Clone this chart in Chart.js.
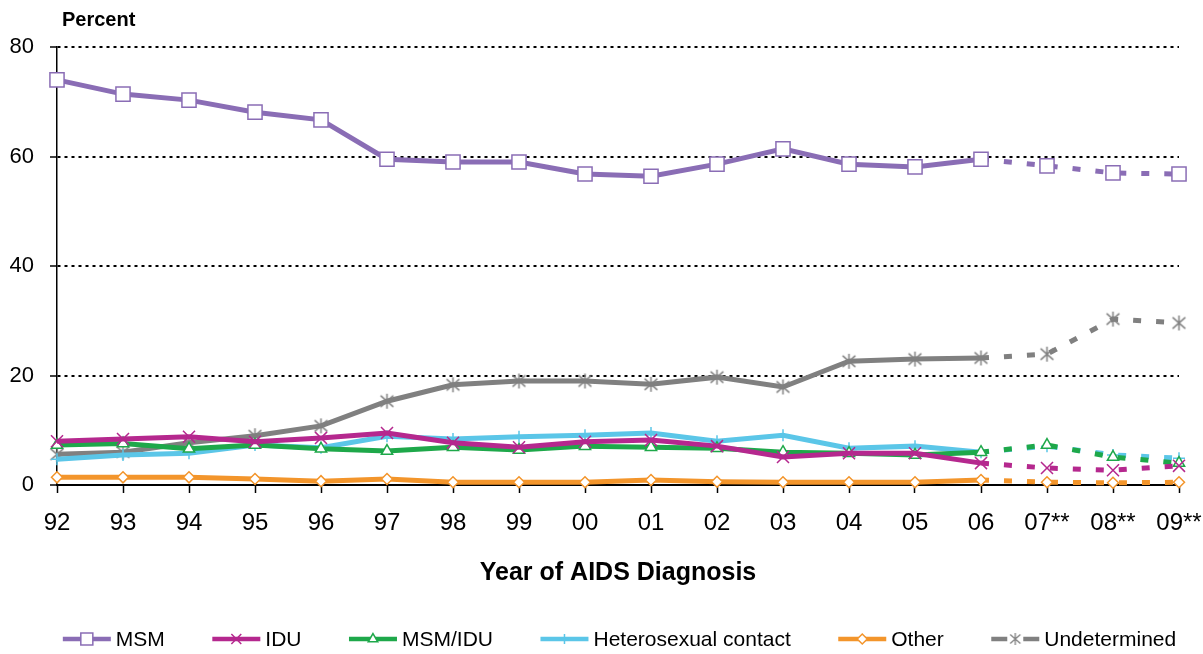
<!DOCTYPE html>
<html><head><meta charset="utf-8">
<script src="https://cdn.jsdelivr.net/npm/chart.js@4.4.1/dist/chart.umd.min.js"></script>
<style>html,body{margin:0;padding:0;background:#fff;}#wrap{width:1203px;height:654px;position:relative;}</style>
</head><body><div id="wrap"><canvas id="c"></canvas></div>
<script>
const years = ['92','93','94','95','96','97','98','99','00','01','02','03','04','05','06','07**','08**','09**'];
const msm = [74.0,71.4,70.3,68.1,66.7,59.5,59.0,59.0,56.8,56.4,58.6,61.4,58.6,58.1,59.5,58.3,57.0,56.8];
const idu = [8.0,8.4,8.8,7.9,8.6,9.5,7.7,6.9,7.9,8.2,7.1,5.1,5.8,5.8,4.0,3.1,2.7,3.5];
const msmIdu = [7.3,7.6,6.6,7.3,6.6,6.2,6.9,6.4,7.1,6.9,6.7,6.0,5.8,5.5,6.0,7.3,5.1,4.0];
const hetero = [4.7,5.5,5.8,7.3,6.8,8.9,8.4,8.8,9.1,9.5,8.0,9.1,6.7,7.1,6.0,7.1,5.5,4.9];
const other = [1.4,1.4,1.4,1.1,0.7,1.1,0.5,0.5,0.5,0.9,0.6,0.5,0.5,0.5,0.9,0.5,0.4,0.5];
const undetermined = [5.6,6.0,7.7,9.0,10.8,15.3,18.3,19.0,19.0,18.4,19.7,17.9,22.6,23.0,23.2,23.9,30.3,29.6];
const seriesNames = ['MSM','IDU','MSM/IDU','Heterosexual contact','Other','Undetermined'];
const yTicks = [0,20,40,60,80];
const estimatedFrom = 14; // segments after '06' are dashed (estimates)

const FONT = "'Liberation Sans', Arial, sans-serif";
const colors = ['#8A6DB5','#B5288E','#1EA84A','#5BC6E8','#F3952B','#808080'];

function asterisk(color, size, lw){
  const c = document.createElement('canvas'); c.width = size; c.height = size;
  const g = c.getContext('2d'); g.strokeStyle = color; g.lineWidth = lw; g.lineCap='butt';
  const m = size/2, r = size/2 - 1;
  g.beginPath();
  g.moveTo(m, m - r); g.lineTo(m, m + r);
  const dx = r*0.85, dy = r*0.75;
  g.moveTo(m - dx, m - dy); g.lineTo(m + dx, m + dy);
  g.moveTo(m + dx, m - dy); g.lineTo(m - dx, m + dy);
  g.stroke();
  return c;
}
const starImg = asterisk(colors[5], 17, 1.5);
const starImgLegend = asterisk(colors[5], 14, 1.3);

const styles = [
  {pointStyle:'rect', radius:10},
  {pointStyle:'crossRot', radius:8.5},
  {pointStyle:'triangle', radius:6.5},
  {pointStyle:'cross', radius:6},
  {pointStyle:'rectRot', radius:5.5},
  {pointStyle:starImg, radius:8}
];
const legendStyles = [
  {pointStyle:'rect', radius:8.5},
  {pointStyle:'crossRot', radius:7},
  {pointStyle:'triangle', radius:5.5},
  {pointStyle:'cross', radius:5},
  {pointStyle:'rectRot', radius:5},
  {pointStyle:starImgLegend, radius:7}
];
const seriesData = [msm, idu, msmIdu, hetero, other, undetermined];

const datasets = seriesData.map((d,i)=>({
  label: seriesNames[i],
  data: d,
  borderColor: colors[i],
  backgroundColor: colors[i],
  borderWidth: 5,
  pointStyle: styles[i].pointStyle,
  pointRadius: styles[i].radius,
  pointHoverRadius: styles[i].radius,
  pointBorderWidth: 1.5,
  pointBackgroundColor: '#fff',
  pointBorderColor: colors[i],
  tension: 0,
  clip: false,
  segment: { borderDash: ctx => ctx.p0DataIndex >= estimatedFrom ? [8,15] : undefined }
}));

const extras = {
  id:'extras',
  afterDraw(chart){
    const ctx = chart.ctx;
    ctx.save();
    ctx.fillStyle = '#000';
    ctx.font = 'bold 20px ' + FONT;
    ctx.textBaseline = 'middle'; ctx.textAlign = 'left';
    ctx.fillText('Percent', 62, 20);
    // legend
    ctx.font = '21px ' + FONT;
    const lineW = 48, gapT = 5, gapItem = 47.5;
    const widths = seriesNames.map(n => lineW + gapT + ctx.measureText(n).width);
    const total = widths.reduce((a,b)=>a+b,0) + gapItem*(widths.length-1);
    let x = 619.5 - total/2;
    const y = 639;
    seriesNames.forEach((n,i)=>{
      ctx.strokeStyle = colors[i]; ctx.lineWidth = 4.5; ctx.setLineDash([]);
      ctx.beginPath(); ctx.moveTo(x, y); ctx.lineTo(x+lineW, y); ctx.stroke();
      const st = legendStyles[i];
      ctx.fillStyle = '#fff'; ctx.strokeStyle = colors[i]; ctx.lineWidth = 1.5;
      if (typeof st.pointStyle === 'object') {
        ctx.fillRect(x+lineW/2-8, y-6, 16, 12);
        ctx.drawImage(st.pointStyle, x+lineW/2-st.pointStyle.width/2, y-st.pointStyle.height/2);
      } else {
        Chart.helpers.drawPoint(ctx, {pointStyle: st.pointStyle, radius: st.radius, rotation: 0, borderWidth: 1.5}, x+lineW/2, y);
      }
      ctx.fillStyle = '#000'; ctx.textBaseline='middle'; ctx.textAlign='left';
      ctx.fillText(n, x+lineW+gapT, y+1);
      x += widths[i] + gapItem;
    });
    ctx.restore();
  }
};

new Chart(document.getElementById('c'), {
  type:'line',
  data:{ labels: years, datasets },
  options:{
    responsive:true, maintainAspectRatio:false, animation:false,
    layout:{ padding:{ top:47, right:24, left:0, bottom:0 } },
    plugins:{ legend:{display:false}, tooltip:{enabled:false} },
    scales:{
      x:{
        offset:false,
        afterFit(s){ s.height = 169; s.paddingLeft = 0; s.paddingRight = 0; },
        grid:{ drawOnChartArea:false, drawTicks:true, tickLength:8, tickColor:'#000', tickWidth:1.5 },
        border:{ display:true, color:'#000', width:2 },
        ticks:{ color:'#000', font:{ size:24, family:FONT }, padding:16, maxRotation:0, autoSkip:false },
        title:{ display:true, text:'Year of AIDS Diagnosis', color:'#000', font:{ size:25, weight:'bold', family:FONT }, padding:{ top:0, bottom:66 } }
      },
      y:{
        min:0, max:80,
        afterFit(s){ s.width = 57; s.paddingTop = 0; s.paddingBottom = 0; },
        afterBuildTicks(s){ s.ticks = yTicks.map(v=>({value:v})); },
        grid:{ color: c => c.tick && c.tick.value === 0 ? 'rgba(0,0,0,0)' : '#000', lineWidth:2,
               drawTicks:true, tickLength:7, tickColor:'#000', tickWidth:1.5, tickBorderDash:[] },
        border:{ display:true, color:'#000', width:1.5, dash:[3,4] },
        ticks:{ color:'#000', font:{ size:22, family:FONT }, padding:16 }
      }
    }
  },
  plugins:[extras]
});
</script></body></html>
